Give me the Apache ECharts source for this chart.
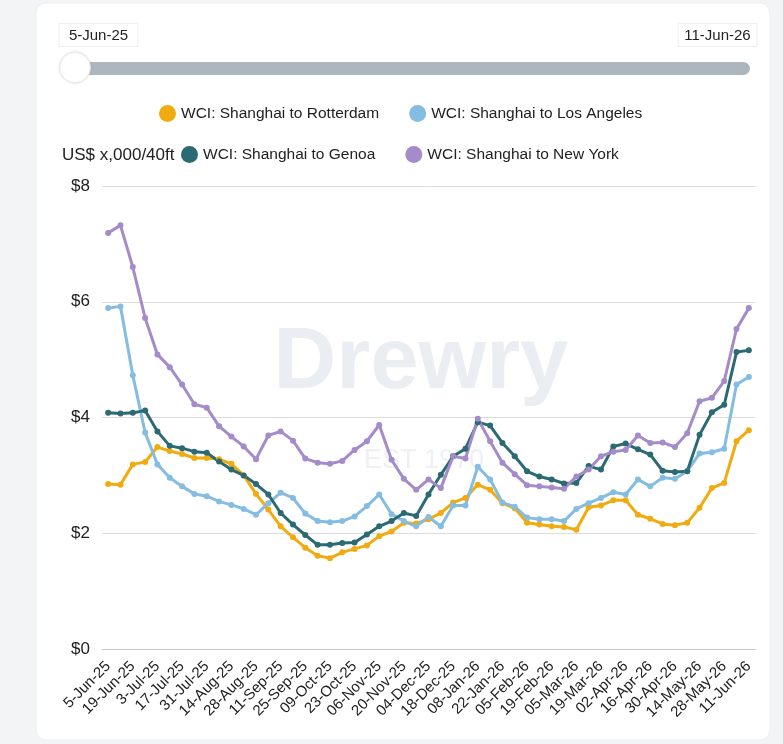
<!DOCTYPE html>
<html>
<head>
<meta charset="utf-8">
<script src="https://cdn.jsdelivr.net/npm/echarts@6/dist/echarts.min.js"></script>
<style>
html,body{margin:0;padding:0;background:#f3f4f6;}
#chart{width:783px;height:744px;}
</style>
</head>
<body>
<div id="chart"></div>
<script>
const categories = [
  '5-Jun-25','12-Jun-25','19-Jun-25','26-Jun-25','3-Jul-25','10-Jul-25','17-Jul-25','24-Jul-25',
  '31-Jul-25','7-Aug-25','14-Aug-25','21-Aug-25','28-Aug-25','4-Sep-25','11-Sep-25','18-Sep-25',
  '25-Sep-25','02-Oct-25','09-Oct-25','16-Oct-25','23-Oct-25','30-Oct-25','06-Nov-25','13-Nov-25',
  '20-Nov-25','27-Nov-25','04-Dec-25','11-Dec-25','18-Dec-25','01-Jan-26','08-Jan-26','15-Jan-26',
  '22-Jan-26','29-Jan-26','05-Feb-26','12-Feb-26','19-Feb-26','26-Feb-26','05-Mar-26','12-Mar-26',
  '19-Mar-26','26-Mar-26','02-Apr-26','09-Apr-26','16-Apr-26','23-Apr-26','30-Apr-26','07-May-26',
  '14-May-26','21-May-26','28-May-26','04-Jun-26','11-Jun-26'
];
const rotterdam = [2.85,2.84,3.19,3.23,3.49,3.42,3.37,3.30,3.30,3.28,3.20,3.00,2.68,2.41,2.12,1.93,1.75,1.61,1.57,1.67,1.73,1.79,1.95,2.03,2.18,2.17,2.24,2.35,2.53,2.61,2.84,2.75,2.52,2.43,2.18,2.15,2.12,2.11,2.06,2.45,2.48,2.57,2.57,2.32,2.25,2.16,2.14,2.18,2.44,2.78,2.87,3.59,3.78];
const losAngeles = [5.89,5.92,4.73,3.74,3.19,2.96,2.81,2.68,2.64,2.55,2.49,2.42,2.32,2.52,2.70,2.61,2.34,2.21,2.19,2.21,2.29,2.47,2.67,2.33,2.21,2.12,2.28,2.12,2.48,2.48,3.15,2.93,2.53,2.46,2.27,2.24,2.24,2.21,2.42,2.52,2.61,2.71,2.67,2.93,2.81,2.96,2.94,3.07,3.38,3.40,3.46,4.57,4.70];
const genoa = [4.08,4.07,4.08,4.12,3.76,3.51,3.47,3.41,3.39,3.24,3.10,3.00,2.85,2.67,2.35,2.15,1.97,1.80,1.80,1.83,1.84,1.98,2.12,2.21,2.35,2.30,2.67,3.01,3.33,3.46,3.92,3.86,3.56,3.33,3.07,2.98,2.93,2.86,2.87,3.16,3.10,3.50,3.55,3.45,3.36,3.08,3.06,3.07,3.70,4.09,4.22,5.13,5.16];
const newYork = [7.19,7.32,6.60,5.72,5.09,4.87,4.57,4.23,4.17,3.85,3.67,3.50,3.28,3.69,3.76,3.60,3.29,3.22,3.20,3.25,3.44,3.59,3.87,3.27,2.94,2.75,2.93,2.78,3.33,3.29,3.98,3.59,3.22,3.02,2.83,2.81,2.79,2.77,2.98,3.10,3.33,3.41,3.44,3.69,3.56,3.57,3.49,3.73,4.28,4.34,4.63,5.53,5.89];
const seriesNames = ['WCI: Shanghai to Rotterdam','WCI: Shanghai to Los Angeles','WCI: Shanghai to Genoa','WCI: Shanghai to New York'];
const seriesColors = ['#f0ab10','#84bce2','#2b6a72','#a58bc9'];
const yTicks = [0,2,4,6,8];
const unitLabel = 'US$ x,000/40ft';
const watermark = 'Drewry';
const watermarkSub = 'EST 1970';

const FONT = 'Liberation Sans, Arial, sans-serif';
const chart = echarts.init(document.getElementById('chart'), null, {renderer:'canvas'});
const values = [rotterdam, losAngeles, genoa, newYork];

const option = {
  backgroundColor: '#f3f4f6',
  animation: false,
  textStyle: {fontFamily: FONT},
  graphic: [
    {type:'rect', z:-10, shape:{x:36,y:3,width:734,height:737,r:10}, style:{fill:'#ffffff', stroke:'#eceef1', lineWidth:1}},
    {type:'text', z:-5, x:421, y:364, style:{text:watermark, font:'bold 87px '+FONT, fill:'#eaeef2', align:'center', verticalAlign:'middle'}},
    {type:'text', z:-5, x:424, y:461, style:{text:watermarkSub, font:'27px '+FONT, fill:'#eef0f3', align:'center', verticalAlign:'middle'}},
    {type:'rect', z:5, shape:{x:72,y:62,width:678,height:13,r:6.5}, style:{fill:'#adb5bd'}},
    {type:'circle', z:6, shape:{cx:75,cy:67.5,r:15.5}, style:{fill:'#ffffff', stroke:'#e6e6e6', lineWidth:1, shadowBlur:3, shadowColor:'rgba(0,0,0,0.08)'}},
    {type:'rect', z:5, shape:{x:59,y:23.5,width:79,height:23}, style:{fill:'#ffffff', stroke:'#eeeeee', lineWidth:1}},
    {type:'text', z:6, x:98.5, y:35.5, style:{text:categories[0], font:'15px '+FONT, fill:'#222', align:'center', verticalAlign:'middle'}},
    {type:'rect', z:5, shape:{x:678,y:23.5,width:79,height:23}, style:{fill:'#ffffff', stroke:'#eeeeee', lineWidth:1}},
    {type:'text', z:6, x:717.5, y:35.5, style:{text:categories[categories.length-1], font:'15px '+FONT, fill:'#222', align:'center', verticalAlign:'middle'}},
    {type:'text', z:6, x:62, y:155, style:{text:unitLabel, font:'17px '+FONT, fill:'#222', align:'left', verticalAlign:'middle'}}
  ],
  legend: [
    {data:[seriesNames[0],seriesNames[1]], left:159, top:105, padding:0, icon:'circle', itemWidth:17, itemHeight:17, itemGap:30,
     textStyle:{fontSize:15.5, color:'#222', fontFamily:FONT}},
    {data:[seriesNames[2],seriesNames[3]], left:181, top:146, padding:0, icon:'circle', itemWidth:17, itemHeight:17, itemGap:30,
     textStyle:{fontSize:15.5, color:'#222', fontFamily:FONT}}
  ],
  grid: {left:102, right:28, top:186, bottom:95},
  xAxis: {
    type:'category', data:categories, boundaryGap:true,
    axisLine:{show:true, lineStyle:{color:'#c8c8c8', width:1}},
    axisTick:{show:false},
    axisLabel:{interval:1, rotate:45, fontSize:15, color:'#222', margin:15, fontFamily:FONT}
  },
  yAxis: {
    type:'value', min:yTicks[0], max:yTicks[yTicks.length-1], interval:2,
    axisLine:{show:false}, axisTick:{show:false},
    splitLine:{lineStyle:{color:'#dcdcdc', width:1}},
    axisLabel:{formatter:v=>'$'+v, fontSize:17, color:'#222', margin:12, fontFamily:FONT}
  },
  series: seriesNames.map((n,i)=>({
    name:n, type:'line', data:values[i], color:seriesColors[i],
    symbol:'circle', symbolSize:6, showSymbol:true, smooth:false,
    lineStyle:{width:3, color:seriesColors[i]},
    itemStyle:{color:seriesColors[i]}
  }))
};
chart.setOption(option);
</script>
</body>
</html>
